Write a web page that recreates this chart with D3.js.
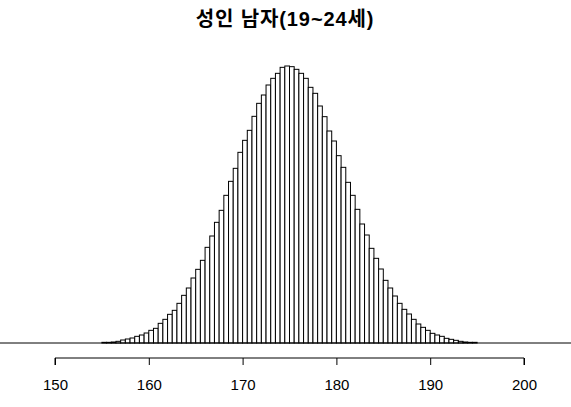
<!DOCTYPE html>
<html>
<head>
<meta charset="utf-8">
<script src="https://cdnjs.cloudflare.com/ajax/libs/d3/7.8.5/d3.min.js"></script>
<style>
  body { margin: 0; background: #fff; }
  svg text { font-family: "Liberation Sans", Arial, "Noto Sans CJK KR", sans-serif; }
</style>
</head>
<body>
<div id="chart"></div>
<script>
var title = "성인 남자(19~24세)";

// bin start (cm), each bin 0.5 cm wide
var binStart = 155, binWidth = 0.5;

// share of each bin (%)
var pct = [
  0.008, 0.008, 0.012, 0.020, 0.036, 0.048, 0.060, 0.080, 0.096, 0.120,
  0.152, 0.176, 0.236, 0.284, 0.344, 0.392, 0.476, 0.572, 0.660, 0.780,
  0.884, 0.992, 1.148, 1.284, 1.448, 1.592, 1.772, 1.940, 2.096, 2.288,
  2.432, 2.552, 2.720, 2.876, 2.976, 3.096, 3.176, 3.236, 3.308, 3.324,
  3.316, 3.284, 3.236, 3.176, 3.068, 2.996, 2.844, 2.716, 2.544, 2.424,
  2.248, 2.108, 1.928, 1.772, 1.604, 1.428, 1.296, 1.136, 1.016, 0.888,
  0.752, 0.660, 0.564, 0.476, 0.404, 0.348, 0.284, 0.228, 0.188, 0.152,
  0.116, 0.096, 0.080, 0.056, 0.044, 0.032, 0.020, 0.012, 0.008, 0.008
];

var xTicks = [150, 160, 170, 180, 190, 200];

var W = 571, H = 407;
var svg = d3.select("#chart").append("svg")
    .attr("width", W).attr("height", H);

var bins = pct.map(function(v, i){
  return { x0: binStart + i * binWidth, x1: binStart + (i + 1) * binWidth, v: v };
});

var x = d3.scaleLinear().domain([150, 200]).range([55, 524]);
var y = d3.scaleLinear().domain([0, d3.max(pct)]).range([343, 66]);

// title
svg.append("text")
    .attr("x", 285).attr("y", 26)
    .attr("text-anchor", "middle")
    .style("font-size", "20px").style("font-weight", "bold")
    .style("letter-spacing", "0.9px")
    .text(title);

// bars
svg.append("g").selectAll("rect")
  .data(bins)
  .enter().append("rect")
    .attr("x", function(d){ return x(d.x0); })
    .attr("y", function(d){ return y(d.v); })
    .attr("width", function(d){ return x(d.x1) - x(d.x0); })
    .attr("height", function(d){ return y(0) - y(d.v); })
    .attr("fill", "white")
    .attr("stroke", "black")
    .attr("stroke-width", 1);

// baseline across the whole plot
svg.append("line")
    .attr("x1", 0).attr("x2", W)
    .attr("y1", y(0)).attr("y2", y(0))
    .attr("stroke", "black").attr("stroke-width", 1);

// x axis
var axis = d3.axisBottom(x).tickValues(xTicks).tickSize(7).tickPadding(14).tickFormat(d3.format("d"));
var gx = svg.append("g")
    .attr("transform", "translate(0,358)")
    .call(axis);
gx.select(".domain").attr("stroke", "black").attr("d", "M55,7V0H524V7");
gx.selectAll(".tick line").attr("stroke", "black");
gx.selectAll(".tick text")
    .attr("fill", "black")
    .style("font-size", "15px")
    .style("font-family", "'Liberation Sans', Arial, sans-serif");
</script>
</body>
</html>
